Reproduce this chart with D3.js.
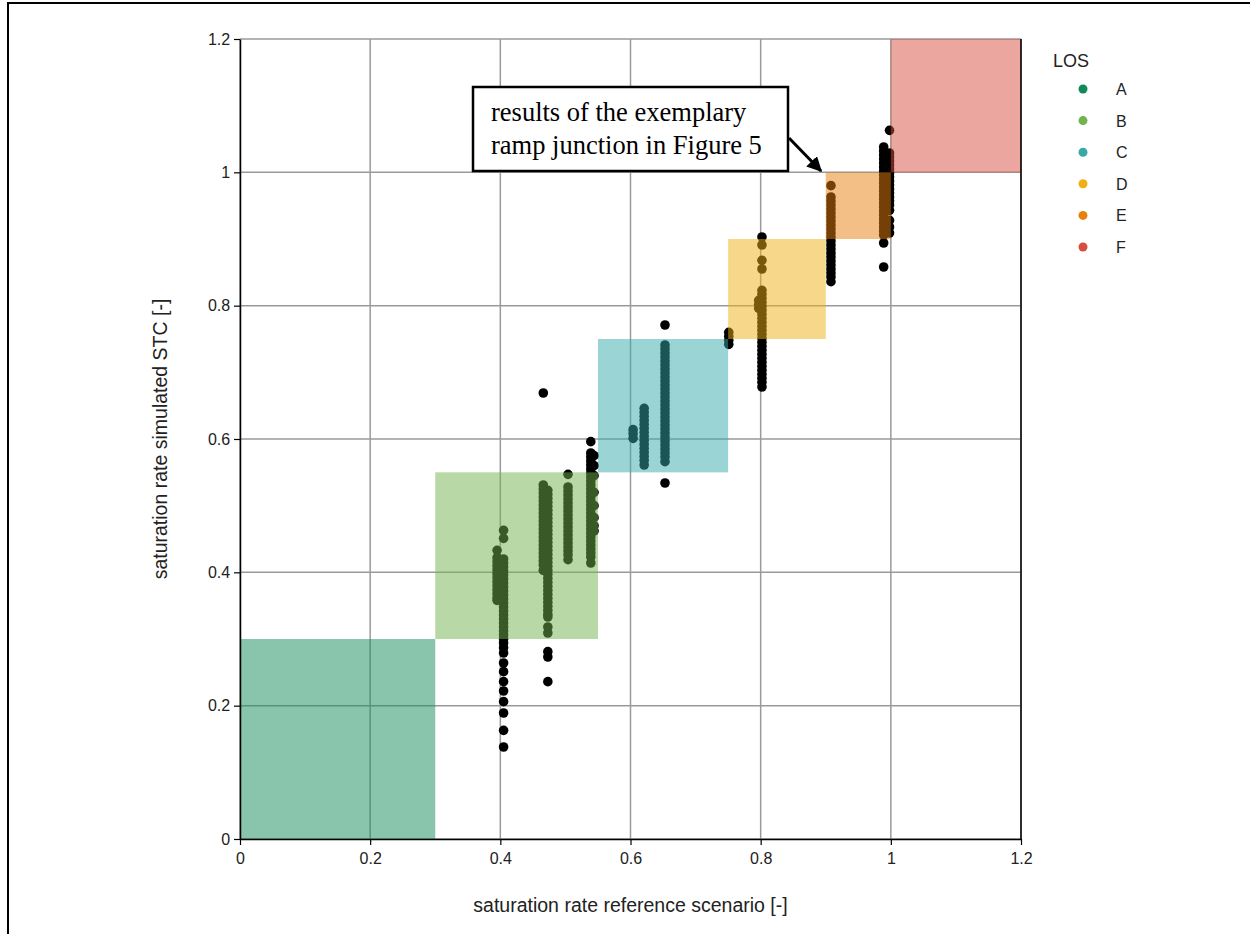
<!DOCTYPE html>
<html><head><meta charset="utf-8">
<script src="https://cdn.jsdelivr.net/npm/d3@7"></script>
<style>body{margin:0;background:#fff}svg{display:block}</style>
</head><body>
<svg id="chart" width="1250" height="934"></svg>
<script>
// ---- data ----
const xTicks = [0, 0.2, 0.4, 0.6, 0.8, 1, 1.2];
const yTicks = [0, 0.2, 0.4, 0.6, 0.8, 1, 1.2];
const losCategories = ["A", "B", "C", "D", "E", "F"];
const losColors = ["#13895a", "#72b44c", "#37a9a9", "#f0b014", "#e88010", "#d54e40"];
const losLower = [0, 0.3, 0.55, 0.75, 0.9, 1.0];
const losUpper = [0.3, 0.55, 0.75, 0.9, 1.0, 1.2];

// columns of points: x value, list of y values
const col1a = {x: 0.395, y: [0.433, 0.422, 0.416, 0.410, 0.404, 0.398, 0.392, 0.386, 0.380, 0.374, 0.368, 0.362, 0.358]};
const col1b = {x: 0.405, y: [0.463, 0.451, 0.420, 0.414, 0.408, 0.402, 0.396, 0.390, 0.384, 0.378, 0.372, 0.366, 0.360, 0.354, 0.348, 0.342, 0.336, 0.330, 0.324, 0.318, 0.312, 0.306, 0.300, 0.294, 0.287, 0.279, 0.264, 0.251, 0.236, 0.222, 0.206, 0.189, 0.163, 0.138]};
const col2a = {x: 0.466, y: [0.669, 0.531, 0.525, 0.519, 0.513, 0.507, 0.501, 0.495, 0.489, 0.483, 0.477, 0.471, 0.465, 0.459, 0.453, 0.447, 0.441, 0.435, 0.429, 0.423, 0.417, 0.411, 0.403]};
const col2b = {x: 0.473, y: [0.523, 0.517, 0.511, 0.505, 0.499, 0.493, 0.487, 0.481, 0.475, 0.469, 0.463, 0.457, 0.451, 0.445, 0.439, 0.433, 0.427, 0.421, 0.415, 0.409, 0.403, 0.397, 0.391, 0.385, 0.379, 0.373, 0.367, 0.361, 0.355, 0.349, 0.343, 0.337, 0.333, 0.318, 0.309, 0.281, 0.273, 0.236]};
const col3 = {x: 0.504, y: [0.547, 0.528, 0.522, 0.516, 0.510, 0.504, 0.498, 0.492, 0.486, 0.480, 0.474, 0.468, 0.462, 0.456, 0.450, 0.444, 0.438, 0.432, 0.426, 0.419]};
const col4a = {x: 0.539, y: [0.596, 0.579, 0.573, 0.567, 0.561, 0.555, 0.549, 0.543, 0.537, 0.531, 0.525, 0.519, 0.513, 0.507, 0.501, 0.495, 0.489, 0.483, 0.477, 0.471, 0.465, 0.459, 0.453, 0.447, 0.441, 0.435, 0.429, 0.423, 0.414]};
const col4b = {x: 0.544, y: [0.575, 0.560, 0.545, 0.520, 0.500, 0.482, 0.470, 0.462]};
const col5 = {x: 0.604, y: [0.614, 0.608, 0.601]};
const col6 = {x: 0.621, y: [0.646, 0.640, 0.634, 0.628, 0.622, 0.616, 0.610, 0.604, 0.598, 0.592, 0.586, 0.580, 0.574, 0.568, 0.561]};
const col7 = {x: 0.653, y: [0.771, 0.741, 0.735, 0.729, 0.723, 0.717, 0.711, 0.705, 0.699, 0.693, 0.687, 0.681, 0.675, 0.669, 0.663, 0.657, 0.651, 0.645, 0.639, 0.633, 0.627, 0.621, 0.615, 0.609, 0.603, 0.597, 0.591, 0.585, 0.579, 0.573, 0.566, 0.534]};
const col8 = {x: 0.751, y: [0.760, 0.754, 0.748, 0.742]};
const col9a = {x: 0.802, y: [0.903, 0.891, 0.868, 0.855, 0.823, 0.817, 0.811, 0.805, 0.799, 0.793, 0.787, 0.781, 0.775, 0.769, 0.763, 0.757, 0.751, 0.745, 0.739, 0.733, 0.727, 0.721, 0.715, 0.709, 0.703, 0.697, 0.691, 0.685, 0.678]};
const col9b = {x: 0.797, y: [0.808, 0.802, 0.796]};
const col10 = {x: 0.908, y: [0.980, 0.963, 0.957, 0.951, 0.945, 0.939, 0.933, 0.927, 0.921, 0.915, 0.909, 0.903, 0.897, 0.891, 0.885, 0.879, 0.873, 0.867, 0.861, 0.855, 0.849, 0.843, 0.836]};
const col11a = {x: 0.989, y: [1.038, 1.032, 1.026, 1.020, 1.014, 1.008, 1.002, 0.996, 0.990, 0.984, 0.978, 0.972, 0.966, 0.960, 0.954, 0.948, 0.942, 0.936, 0.930, 0.924, 0.918, 0.912, 0.906, 0.894, 0.858]};
const col11b = {x: 0.998, y: [1.063, 1.029, 1.023, 1.017, 1.011, 1.005, 0.999, 0.993, 0.987, 0.981, 0.975, 0.969, 0.963, 0.957, 0.951, 0.943, 0.928, 0.918, 0.909]};
const columns = [col1a, col1b, col2a, col2b, col3, col4a, col4b, col5, col6, col7, col8, col9a, col9b, col10, col11a, col11b];

const annotationLines = ["results of the exemplary", "ramp junction in Figure 5"];

// ---- drawing ----
const svg = d3.select("#chart");
const m = {left: 240, top: 39, right: 1021, bottom: 839};
const x = d3.scaleLinear().domain([0, 1.2]).range([m.left, m.right]);
const y = d3.scaleLinear().domain([0, 1.2]).range([m.bottom, m.top]);

// outer frame
svg.append("rect").attr("x", 8).attr("y", 3).attr("width", 1300).attr("height", 1000)
  .attr("fill", "none").attr("stroke", "#000").attr("stroke-width", 2);

// grid
const grid = svg.append("g");
grid.selectAll(".gx").data(xTicks).join("line")
  .attr("x1", d => x(d)).attr("x2", d => x(d)).attr("y1", m.top).attr("y2", m.bottom)
  .attr("stroke", "#9a9a9a").attr("stroke-width", 1.5);
grid.selectAll(".gy").data(yTicks).join("line")
  .attr("y1", d => y(d)).attr("y2", d => y(d)).attr("x1", m.left).attr("x2", m.right)
  .attr("stroke", "#9a9a9a").attr("stroke-width", 1.5);

// points
const pts = [];
columns.forEach(c => c.y.forEach(v => pts.push([c.x, v])));
svg.append("g").selectAll("circle").data(pts).join("circle")
  .attr("cx", d => x(d[0])).attr("cy", d => y(d[1])).attr("r", 4.8).attr("fill", "#000");

// LOS rectangles
svg.append("g").selectAll("rect").data(losCategories).join("rect")
  .attr("x", (d, i) => x(losLower[i])).attr("y", (d, i) => y(losUpper[i]))
  .attr("width", (d, i) => x(losUpper[i]) - x(losLower[i]))
  .attr("height", (d, i) => y(losLower[i]) - y(losUpper[i]))
  .attr("fill", (d, i) => losColors[i]).attr("fill-opacity", 0.5);

// axes
const font = "'Liberation Sans', Arial, sans-serif";
const xAxis = svg.append("g").attr("transform", `translate(0,${m.bottom})`)
  .call(d3.axisBottom(x).tickValues(xTicks).tickFormat(d3.format("")).tickSize(6).tickSizeOuter(0));
const yAxis = svg.append("g").attr("transform", `translate(${m.left},0)`)
  .call(d3.axisLeft(y).tickValues(yTicks).tickFormat(d3.format("")).tickSize(6).tickSizeOuter(0));
[xAxis, yAxis].forEach(a => {
  a.attr("font-size", null).attr("font-family", null);
  a.select(".domain").attr("stroke", "#000").attr("stroke-width", 1.5);
  a.selectAll(".tick line").attr("stroke", "#000").attr("stroke-width", 1.2);
  a.selectAll(".tick text").style("font-family", font).style("font-size", "16px").attr("fill", "#222");
});
xAxis.selectAll(".tick text").attr("dy", "1.0em");
yAxis.selectAll(".tick text").attr("dx", "-0.05em");
// right border
svg.append("line").attr("x1", m.right).attr("x2", m.right).attr("y1", m.top).attr("y2", m.bottom)
  .attr("stroke", "#000").attr("stroke-width", 1.5);

// axis titles
svg.append("text").attr("x", (m.left + m.right) / 2).attr("y", 912).attr("text-anchor", "middle")
  .style("font-family", font).style("font-size", "19.5px").attr("fill", "#222")
  .text("saturation rate reference scenario [-]");
svg.append("text").attr("transform", `translate(167,${(m.top + m.bottom) / 2}) rotate(-90)`)
  .attr("text-anchor", "middle").style("font-family", font).style("font-size", "19.5px").attr("fill", "#222")
  .text("saturation rate simulated STC [-]");

// legend
const lg = svg.append("g");
lg.append("text").attr("x", 1053).attr("y", 67).style("font-family", font).style("font-size", "18px")
  .attr("fill", "#222").text("LOS");
const li = lg.selectAll(".li").data(losCategories).join("g")
  .attr("transform", (d, i) => `translate(0,${89 + i * 31.6})`);
li.append("circle").attr("cx", 1083).attr("cy", 0).attr("r", 4.5).attr("fill", (d, i) => losColors[i]);
li.append("text").attr("x", 1116).attr("y", 6).style("font-family", font).style("font-size", "16px")
  .attr("fill", "#222").text(d => d);

// annotation
const an = svg.append("g");
an.append("rect").attr("x", 473).attr("y", 87).attr("width", 315).attr("height", 84)
  .attr("fill", "#fff").attr("stroke", "#000").attr("stroke-width", 2.5);
an.selectAll("text").data(annotationLines).join("text")
  .attr("x", 491).attr("y", (d, i) => 121 + i * 33)
  .style("font-family", "'Liberation Serif', 'Times New Roman', serif").style("font-size", "26.5px")
  .attr("fill", "#000").text(d => d);
svg.append("defs").append("marker").attr("id", "ah").attr("viewBox", "0 0 10 10")
  .attr("refX", 9).attr("refY", 5).attr("markerWidth", 5).attr("markerHeight", 5)
  .attr("orient", "auto").attr("markerUnits", "strokeWidth")
  .append("path").attr("d", "M0,0 L10,5 L0,10 z").attr("fill", "#000");
an.append("line").attr("x1", 789).attr("y1", 138).attr("x2", 821).attr("y2", 171)
  .attr("stroke", "#000").attr("stroke-width", 3).attr("marker-end", "url(#ah)");
</script>
</body></html>
